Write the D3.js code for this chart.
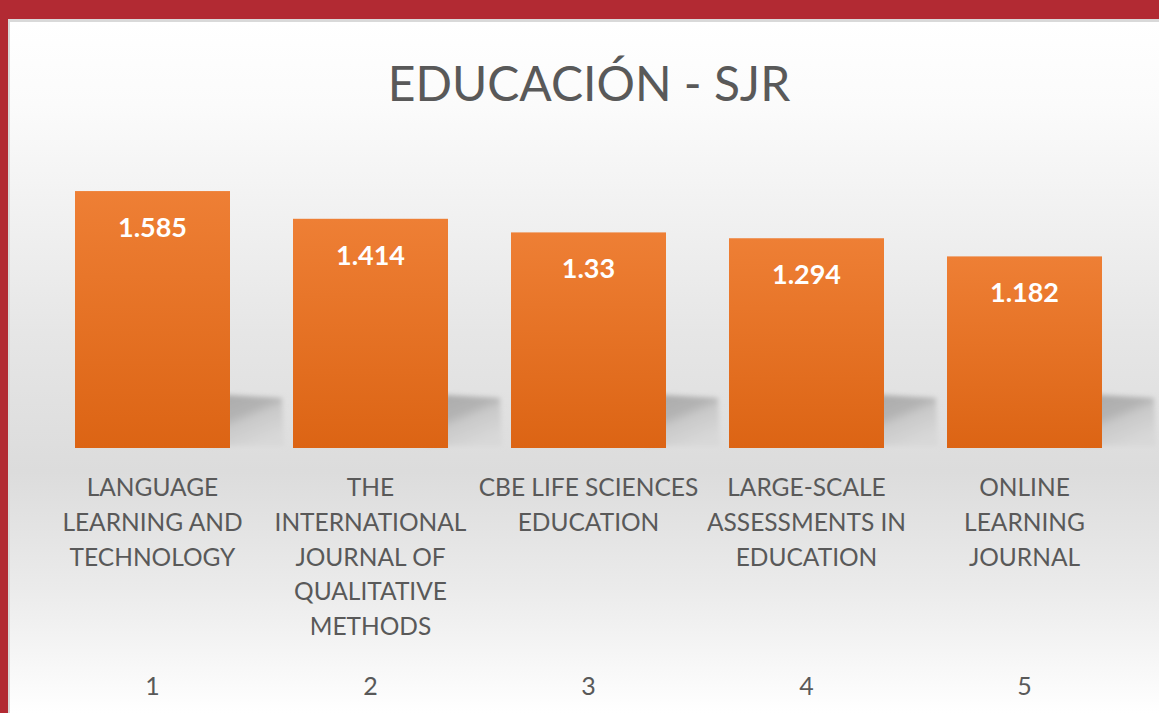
<!DOCTYPE html>
<html><head><meta charset="utf-8">
<script src="https://cdn.jsdelivr.net/npm/d3@7"></script>
<style>html,body{margin:0;padding:0;background:#fff;overflow:hidden}</style>
</head><body>
<svg id="c" width="1159" height="713"></svg>
<script>
const title = "EDUCACIÓN - SJR";
const categories = [
  ["LANGUAGE","LEARNING AND","TECHNOLOGY"],
  ["THE","INTERNATIONAL","JOURNAL OF","QUALITATIVE","METHODS"],
  ["CBE LIFE SCIENCES","EDUCATION"],
  ["LARGE-SCALE","ASSESSMENTS IN","EDUCATION"],
  ["ONLINE","LEARNING","JOURNAL"]
];
const ranks = ["1","2","3","4","5"];
const values = [1.585, 1.414, 1.33, 1.294, 1.182];
const valueLabels = ["1.585","1.414","1.33","1.294","1.182"];

const W = 1159, H = 713;
const svg = d3.select("#c");
const defs = svg.append("defs");

const bg = defs.append("linearGradient").attr("id","bg").attr("x1",0).attr("y1",0).attr("x2",0).attr("y2",1);
[[0,"#ffffff"],[0.12,"#fbfbfb"],[0.45,"#e6e6e6"],[0.65,"#dcdcdc"],[0.82,"#ebebeb"],[1,"#ffffff"]]
  .forEach(([o,c])=>bg.append("stop").attr("offset",o).attr("stop-color",c));

const barG = defs.append("linearGradient").attr("id","bar").attr("x1",0).attr("y1",0).attr("x2",0).attr("y2",1);
barG.append("stop").attr("offset",0).attr("stop-color","#ee7f35");
barG.append("stop").attr("offset",1).attr("stop-color","#dc6414");

const sh = defs.append("linearGradient").attr("id","sh").attr("x1",0).attr("y1",0).attr("x2",0.6).attr("y2",1);
sh.append("stop").attr("offset",0).attr("stop-color","#a9a9a9");
sh.append("stop").attr("offset",0.45).attr("stop-color","#b3b3b3");
sh.append("stop").attr("offset",0.6).attr("stop-color","#c9c9c9");
sh.append("stop").attr("offset",1).attr("stop-color","#d8d8d8");
defs.append("filter").attr("id","blur").attr("x","-20%").attr("y","-20%").attr("width","140%").attr("height","140%")
  .append("feGaussianBlur").attr("stdDeviation",2.5);

// frame
svg.append("rect").attr("width",W).attr("height",H).attr("fill","#b22a33");
svg.append("rect").attr("x",8).attr("y",19).attr("width",W-8).attr("height",H-19).attr("fill","#d9d9d9");
svg.append("rect").attr("x",10).attr("y",22).attr("width",W-10).attr("height",H-22).attr("fill","url(#bg)");

const x = d3.scaleBand().domain(d3.range(values.length)).range([43.5,1133.5]).paddingInner(0.289).paddingOuter(0.1445);
const y = d3.scaleLinear().domain([0,1.8]).range([448, 448-1.8*162.1]);

// shadows
svg.append("g").selectAll("path").data(values).join("path")
  .attr("d",(d,i)=>{
    const x0 = x(i)+x.bandwidth()-20, x1 = x(i)+x.bandwidth();
    const yt = 394, yb = y(0)-2;
    return `M${x0},${yt} L${x1+52},${yt+4} L${x1+54},${yb} L${x0},${yb} Z`;
  })
  .attr("fill","url(#sh)").attr("filter","url(#blur)");

// bars
svg.append("g").selectAll("rect").data(values).join("rect")
  .attr("x",(d,i)=>x(i)).attr("width",x.bandwidth())
  .attr("y",d=>y(d)).attr("height",d=>y(0)-y(d))
  .attr("fill","url(#bar)");

// value labels
svg.append("g").selectAll("text").data(values).join("text")
  .attr("x",(d,i)=>x(i)+x.bandwidth()/2).attr("y",d=>y(d)+46)
  .attr("text-anchor","middle").attr("fill","#ffffff")
  .style("font-family","Lato, 'Open Sans', sans-serif").style("font-weight","bold").style("font-size","27px")
  .text((d,i)=>valueLabels[i]);

// category labels
const cg = svg.append("g");
categories.forEach((lines,i)=>{
  const t = cg.append("text").attr("text-anchor","middle").attr("fill","#595959")
    .style("font-family","Lato, 'Open Sans', sans-serif").style("font-size","24.5px");
  lines.forEach((ln,j)=>{
    t.append("tspan").attr("x",x(i)+x.bandwidth()/2).attr("y",496+j*34.8).text(ln);
  });
});

// rank labels
svg.append("g").selectAll("text").data(ranks).join("text")
  .attr("x",(d,i)=>x(i)+x.bandwidth()/2).attr("y",695)
  .attr("text-anchor","middle").attr("fill","#595959")
  .style("font-family","Lato, 'Open Sans', sans-serif").style("font-size","25px")
  .text(d=>d);

// title
svg.append("text").attr("x",589).attr("y",101).attr("text-anchor","middle").attr("fill","#595959")
  .style("font-family","Lato, 'Open Sans', sans-serif").style("font-size","48px").text(title);
</script>
</body></html>
